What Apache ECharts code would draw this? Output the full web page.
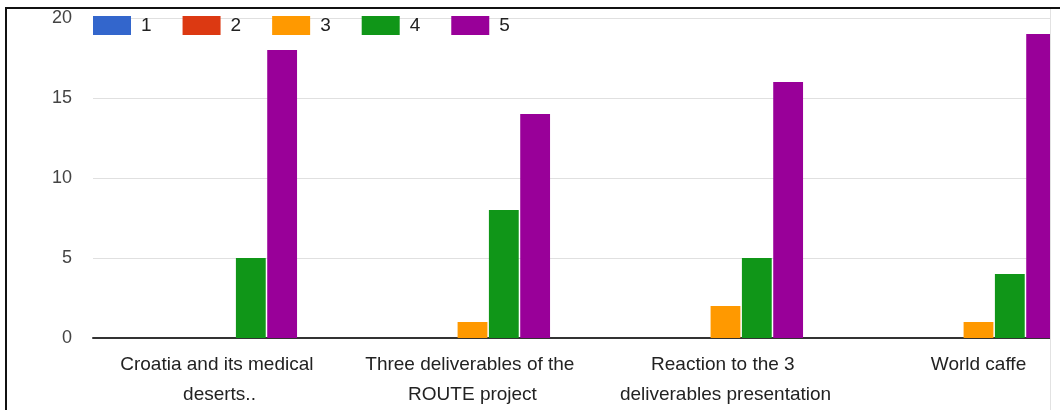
<!DOCTYPE html>
<html>
<head>
<meta charset="utf-8">
<script src="https://cdn.jsdelivr.net/npm/echarts@6/dist/echarts.min.js"></script>
<style>
    body { margin: 0; background: #fff; }
    #clip { position: absolute; left: 0; top: 0; width: 1051px; height: 410px; overflow: hidden; }
    #bar { width: 1110px; height: 410px; }
    #topLine { position: absolute; left: 5px; top: 7px; width: 1055px; height: 2px; background: #111; }
    #leftLine { position: absolute; left: 5px; top: 7px; width: 2px; height: 403px; background: #111; }
    #rightLine { position: absolute; left: 1050px; top: 9px; width: 1px; height: 401px; background: #e2e2e2; }
</style>
</head>
<body>
<div id="clip"><div id="bar"></div></div>
<div id="topLine"></div>
<div id="leftLine"></div>
<div id="rightLine"></div>
<script>
var categories = ['Croatia and its medical deserts..', 'Three deliverables of the ROUTE project', 'Reaction to the 3 deliverables presentation', 'World caffe'];
var seriesNames = ['1', '2', '3', '4', '5'];
var s1 = [0, 0, 0, 0];
var s2 = [0, 0, 0, 0];
var s3 = [0, 1, 2, 1];
var s4 = [5, 8, 5, 4];
var s5 = [18, 14, 16, 19];
var yTicks = [0, 5, 10, 15, 20];

var colors = ['#3366cc', '#dc3912', '#ff9900', '#109618', '#990099'];
var values = [s1, s2, s3, s4, s5];

var barChart = echarts.init(document.getElementById('bar'));
var series = [];
for (var i = 0; i < seriesNames.length; i++) {
    series.push({
        name: seriesNames[i],
        type: 'bar',
        data: values[i],
        barGap: '5%',
        barCategoryGap: '38.7%',
        itemStyle: { color: colors[i] }
    });
}

barOption = {
    animation: false,
    color: colors,
    textStyle: { fontFamily: 'Liberation Sans, Arial, sans-serif' },
    legend: {
        data: seriesNames,
        left: 93,
        top: 16,
        padding: 0,
        itemWidth: 38,
        itemHeight: 19,
        itemGap: 31,
        icon: 'rect',
        textStyle: { color: '#222', fontSize: 19, padding: [0, 0, 0, 5] }
    },
    grid: {
        left: 93,
        right: 5,
        top: 18,
        bottom: 72,
        containLabel: false
    },
    xAxis: {
        type: 'category',
        data: categories,
        axisTick: { show: false },
        axisLine: { lineStyle: { color: '#333', width: 2 } },
        axisLabel: {
            interval: 0,
            color: '#222',
            fontSize: 19,
            lineHeight: 30,
            margin: 12,
            width: 225,
            overflow: 'break'
        }
    },
    yAxis: {
        type: 'value',
        min: yTicks[0],
        max: yTicks[yTicks.length - 1],
        interval: 5,
        axisLine: { show: false },
        axisTick: { show: false },
        splitLine: { lineStyle: { color: '#e0e0e0', width: 1 } },
        axisLabel: { color: '#444', fontSize: 18, margin: 21, padding: [5, 0, 0, 0] }
    },
    series: series
};
barChart.setOption(barOption);
</script>
</body>
</html>
